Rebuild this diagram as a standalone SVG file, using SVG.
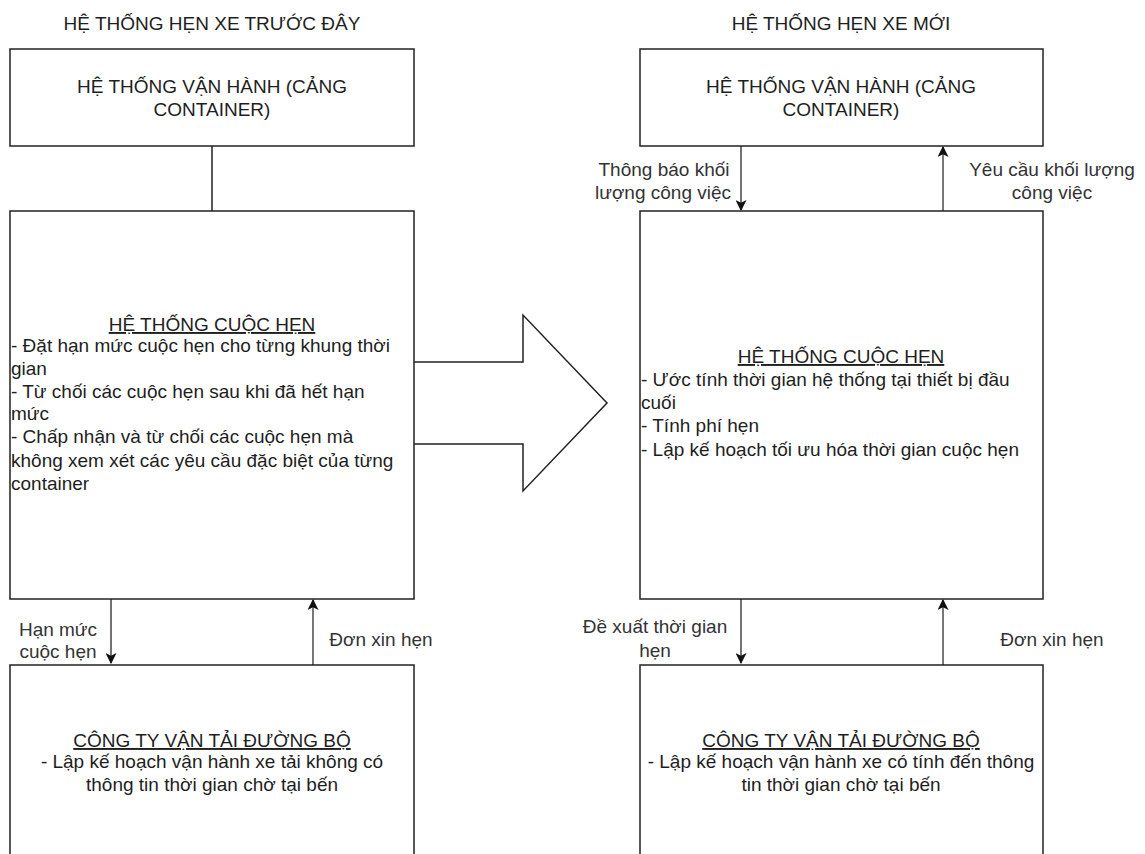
<svg xmlns="http://www.w3.org/2000/svg" width="1145" height="854" viewBox="0 0 1145 854">
<defs>
<style>
.box{fill:#fff;stroke:#222;stroke-width:1.5}
.t{font-family:"Liberation Sans",Arial,sans-serif;font-size:19px;fill:#1e1e1e}
.c{text-anchor:middle}
.u{text-decoration:underline}
.lbl{font-family:"Liberation Sans",Arial,sans-serif;font-size:19px;fill:#333;text-anchor:middle}
.dn{stroke:#444;stroke-width:1.5;fill:none}
.up{stroke:#777;stroke-width:2;fill:none}
</style>
<marker id="ah2" viewBox="0 0 10 10" refX="9" refY="5" markerWidth="11" markerHeight="11" markerUnits="userSpaceOnUse" orient="auto">
<path d="M0,0 L10,5 L0,10 L2.5,5 Z" fill="#111"/>
</marker>
</defs>
<rect width="1145" height="854" fill="#fff"/>

<text class="t c" x="212" y="30">HỆ THỐNG HẸN XE TRƯỚC ĐÂY</text>
<text class="t c" x="841" y="30">HỆ THỐNG HẸN XE MỚI</text>

<g id="connectors">
<line x1="212" y1="146" x2="212" y2="211" stroke="#222" stroke-width="1.5"/>
<line class="dn" x1="111" y1="599" x2="111" y2="663" marker-end="url(#ah2)"/>
<line class="up" x1="313" y1="665" x2="313" y2="600" marker-end="url(#ah2)"/>
<line class="dn" x1="741" y1="146" x2="741" y2="210" marker-end="url(#ah2)"/>
<line class="up" x1="943" y1="211" x2="943" y2="147" marker-end="url(#ah2)"/>
<line class="dn" x1="741" y1="599" x2="741" y2="663" marker-end="url(#ah2)"/>
<line class="up" x1="943" y1="665" x2="943" y2="600" marker-end="url(#ah2)"/>
<text class="lbl" x="58" y="636">Hạn mức</text>
<text class="lbl" x="58" y="658">cuộc hẹn</text>
<text class="lbl" x="381" y="646">Đơn xin hẹn</text>
<text class="lbl" x="664" y="176">Thông báo khối</text>
<text class="lbl" x="663" y="199">lượng công việc</text>
<text class="lbl" x="1052" y="176">Yêu cầu khối lượng</text>
<text class="lbl" x="1052" y="199">công việc</text>
<text class="lbl" x="655" y="633">Đề xuất thời gian</text>
<text class="lbl" x="655" y="657">hẹn</text>
<text class="lbl" x="1052" y="646">Đơn xin hẹn</text>
</g>

<g id="big-arrow">
<path d="M414,362 L523,362 L523,315 L607,403 L523,491 L523,444 L414,444" fill="#fff" stroke="#222" stroke-width="1.5"/>
</g>

<g id="old-port">
<rect class="box" x="10" y="49" width="404" height="97"/>
<text class="t c" x="212" y="93">HỆ THỐNG VẬN HÀNH (CẢNG</text>
<text class="t c" x="212" y="116">CONTAINER)</text>
</g>

<g id="old-appointment">
<rect class="box" x="10" y="211" width="404" height="388"/>
<text class="t c u" x="212" y="331">HỆ THỐNG CUỘC HẸN</text>
<text class="t" x="11" y="352">- Đặt hạn mức cuộc hẹn cho từng khung thời</text>
<text class="t" x="11" y="375">gian</text>
<text class="t" x="11" y="398">- Từ chối các cuộc hẹn sau khi đã hết hạn</text>
<text class="t" x="11" y="420">mức</text>
<text class="t" x="11" y="443">- Chấp nhận và từ chối các cuộc hẹn mà</text>
<text class="t" x="11" y="467">không xem xét các yêu cầu đặc biệt của từng</text>
<text class="t" x="11" y="490">container</text>
</g>

<g id="old-trucking">
<rect class="box" x="10" y="665" width="404" height="200"/>
<text class="t c u" x="212" y="747">CÔNG TY VẬN TẢI ĐƯỜNG BỘ</text>
<text class="t c" x="212" y="768">- Lập kế hoạch vận hành xe tải không có</text>
<text class="t c" x="212" y="791">thông tin thời gian chờ tại bến</text>
</g>

<g id="new-port">
<rect class="box" x="640" y="49" width="403" height="97"/>
<text class="t c" x="841" y="93">HỆ THỐNG VẬN HÀNH (CẢNG</text>
<text class="t c" x="841" y="116">CONTAINER)</text>
</g>

<g id="new-appointment">
<rect class="box" x="640" y="211" width="403" height="388"/>
<text class="t c u" x="841" y="363">HỆ THỐNG CUỘC HẸN</text>
<text class="t" x="641" y="386">- Ước tính thời gian hệ thống tại thiết bị đầu</text>
<text class="t" x="641" y="409">cuối</text>
<text class="t" x="641" y="432">- Tính phí hẹn</text>
<text class="t" x="641" y="456">- Lập kế hoạch tối ưu hóa thời gian cuộc hẹn</text>
</g>

<g id="new-trucking">
<rect class="box" x="640" y="665" width="403" height="200"/>
<text class="t c u" x="841" y="747">CÔNG TY VẬN TẢI ĐƯỜNG BỘ</text>
<text class="t c" x="841" y="768">- Lập kế hoạch vận hành xe có tính đến thông</text>
<text class="t c" x="841" y="791">tin thời gian chờ tại bến</text>
</g>
</svg>
